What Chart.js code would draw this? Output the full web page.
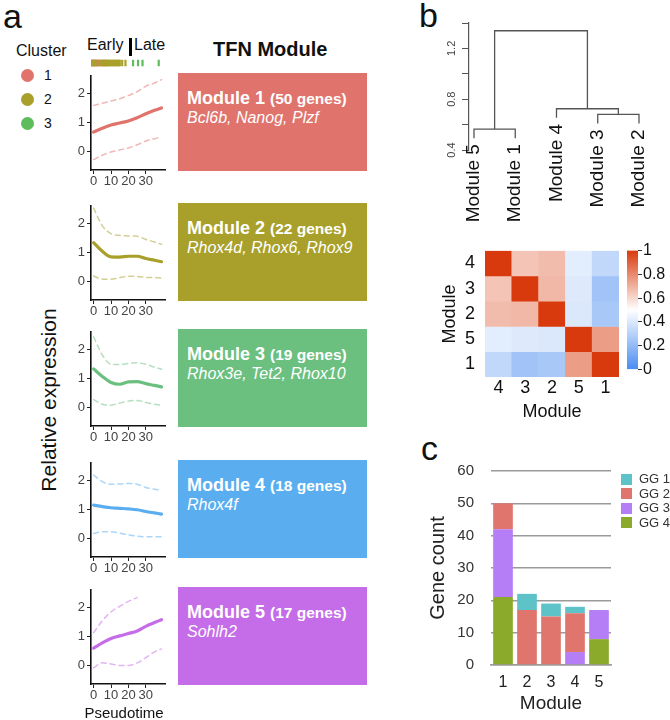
<!DOCTYPE html>
<html>
<head>
<meta charset="utf-8">
<title>TFN modules</title>
<script src="https://cdn.jsdelivr.net/npm/chart.js@4.4.1/dist/chart.umd.min.js"></script>
<style>
  html, body { margin: 0; padding: 0; background: #fff; }
  body { position: relative; width: 670px; height: 720px; overflow: hidden;
         font-family: "Liberation Sans", Arial, sans-serif; color: #111; }
  canvas, .t, .box, .dot, .sq { position: absolute; }
  .t { line-height: 1; white-space: nowrap; }
  .panel { font-size: 34px; }
  .box { left: 178px; width: 189px; height: 98px; color: #fff; }
  .box .l1 { position: absolute; left: 9px; top: 16px; font-weight: bold; font-size: 18px; line-height: 1; white-space: nowrap; }
  .box .l1 small { font-size: 15.5px; }
  .box .l2 { position: absolute; left: 9px; top: 37px; font-style: italic; font-size: 16px; line-height: 1; white-space: nowrap; }
  .dot { width: 13px; height: 13px; border-radius: 50%; }
  .sq { width: 11px; height: 11px; }
</style>
</head>
<body>
<div class="t panel" style="left:3px;top:-1px">a</div>
<div class="t panel" style="left:419px;top:-2px">b</div>
<div class="t panel" style="left:421px;top:431px">c</div>

<div class="t" style="left:16px;top:43px;font-size:16px">Cluster</div>
<div id="clusterLegend"></div>
<div class="t" style="left:87px;top:36.5px;font-size:16px">Early</div>
<div style="position:absolute;left:128.5px;top:38px;width:3px;height:18px;background:#000"></div>
<div class="t" style="left:134px;top:36.5px;font-size:16px">Late</div>
<div class="t" style="left:213px;top:39px;font-size:20px;font-weight:bold">TFN Module</div>
<div id="boxes"></div>

<canvas id="rug" width="109" height="22" style="left:60px;top:52px"></canvas>
<div id="panels"></div>
<div class="t" style="left:48px;top:400px;font-size:21px;transform:translate(-50%,-50%) rotate(-90deg)">Relative expression</div>
<div class="t" style="left:124px;top:705px;font-size:15px;transform:translateX(-50%)">Pseudotime</div>

<canvas id="dendro" width="245" height="215" style="left:425px;top:15px"></canvas>
<canvas id="heat" width="200" height="195" style="left:425px;top:230px"></canvas>
<canvas id="cbar" width="58" height="140" style="left:612px;top:240px"></canvas>
<canvas id="genes" width="190" height="275" style="left:425px;top:445px"></canvas>
<div id="ggLegend"></div>

<script>
// ---- panel a: expression along pseudotime ----
const pseudotime = [0, 5, 10, 15, 20, 25, 30, 35, 39];
const xTicks = [0, 10, 20, 30];
const yTicks = [0, 1, 2];
const fitMean = [
  [0.66, 0.79, 0.90, 0.97, 1.04, 1.15, 1.29, 1.41, 1.49],
  [1.33, 1.03, 0.84, 0.83, 0.86, 0.86, 0.78, 0.72, 0.67],
  [1.32, 1.06, 0.85, 0.79, 0.87, 0.88, 0.81, 0.75, 0.70],
  [1.14, 1.09, 1.05, 1.03, 1.01, 0.98, 0.92, 0.87, 0.83],
  [0.59, 0.77, 0.92, 1.01, 1.09, 1.18, 1.34, 1.47, 1.57]
];
const fitUpper = [
  [1.58, 1.65, 1.73, 1.81, 1.92, 2.05, 2.24, 2.35, 2.47],
  [2.52, 1.91, 1.64, 1.58, 1.56, 1.55, 1.44, 1.35, 1.27],
  [2.43, 1.80, 1.48, 1.47, 1.51, 1.53, 1.48, 1.38, 1.31],
  [2.18, 1.95, 1.86, 1.87, 1.89, 1.86, 1.75, 1.69, 1.65],
  [1.12, 1.53, 1.84, 2.03, 2.20, 2.33, null, null, null]
];
const fitLower = [
  [-0.29, -0.14, -0.03, 0.04, 0.11, 0.22, 0.35, 0.43, 0.49],
  [0.18, 0.07, 0.07, 0.12, 0.17, 0.16, 0.13, 0.12, 0.11],
  [0.26, 0.10, 0.07, 0.14, 0.21, 0.23, 0.16, 0.10, 0.06],
  [0.16, 0.22, 0.22, 0.17, 0.11, 0.07, 0.05, 0.05, 0.05],
  [-0.09, 0.08, 0.04, -0.01, -0.01, 0.08, 0.26, 0.46, 0.56]
];
const moduleNames = ['Module 1', 'Module 2', 'Module 3', 'Module 4', 'Module 5'];
const moduleGenes = [50, 22, 19, 18, 17];
const moduleMarkers = ['Bcl6b, Nanog, Plzf', 'Rhox4d, Rhox6, Rhox9', 'Rhox3e, Tet2, Rhox10', 'Rhox4f', 'Sohlh2'];
const moduleColors = ['#E0736C', '#A8A02A', '#6BBF7F', '#5AAEF0', '#C56CE8'];

// cells on the early/late strip, by cluster
const clusterNames = ['1', '2', '3'];
const clusterColors = ['#E0736C', '#A8A02A', '#5CBD5A'];
const rugCluster1 = [0, 0.6, 1.2, 1.8, 2.4, 3.0, 3.6, 4.2, 6.0, 7.4, 8.8];
const rugCluster2 = [0.3, 1.5, 2.7, 4.8, 5.4, 6.6, 7.0, 7.8, 8.2, 9.2, 9.8, 10.4, 11.0, 11.6, 12.2, 12.8,
                     13.4, 14.0, 14.6, 15.2, 15.8, 16.4, 17.8, 19.7];
const rugCluster3 = [24.1, 27.0, 29.6, 39.0];

// ---- panel b ----
const leafOrder = ['Module 5', 'Module 1', 'Module 4', 'Module 3', 'Module 2'];
const mergePairs = [[-1, -2], [-4, -5], [-3, 2], [1, 3]];   // negative = leaf position, positive = earlier merge
const mergeHeights = [0.565, 0.681, 0.725, 1.339];
const leafHang = 0.072;
const dendroTicks = [0.4, 0.6, 0.8, 1.0, 1.2, 1.4];
const dendroTickLabels = [0.4, 0.8, 1.2];

const heatLabels = ['4', '3', '2', '5', '1'];
const corrRows = [
  [1.00, 0.65, 0.67, 0.42, 0.33],
  [0.65, 1.00, 0.68, 0.41, 0.24],
  [0.67, 0.68, 1.00, 0.40, 0.26],
  [0.42, 0.41, 0.40, 1.00, 0.75],
  [0.33, 0.24, 0.26, 0.75, 1.00]
];
const keyTicks = [0, 0.2, 0.4, 0.6, 0.8, 1];

// ---- panel c ----
const geneModules = ['1', '2', '3', '4', '5'];
const gg1 = [0, 5, 4, 2, 0];
const gg2 = [8, 17, 15, 12, 0];
const gg3 = [21, 0, 0, 4, 9];
const gg4 = [21, 0, 0, 0, 8];
const ggNames = ['GG 1', 'GG 2', 'GG 3', 'GG 4'];
const ggColors = ['#5EC2C9', '#E0756D', '#B57DF6', '#8BAA2B'];

Chart.defaults.font.family = '"Liberation Sans", Arial, sans-serif';
Chart.defaults.color = '#333';
Chart.defaults.animation = false;
Chart.defaults.plugins.legend.display = false;
Chart.defaults.plugins.tooltip.enabled = false;

function fade(hex, a) {
  const n = parseInt(hex.slice(1), 16);
  return `rgba(${n >> 16},${(n >> 8) & 255},${n & 255},${a})`;
}

// html bits: cluster legend and module boxes
const legendEl = document.getElementById('clusterLegend');
clusterNames.forEach((name, i) => {
  const cy = 75 + i * 24;
  legendEl.insertAdjacentHTML('beforeend',
    `<div class="dot" style="left:21px;top:${cy - 6.5}px;background:${clusterColors[i]}"></div>` +
    `<div class="t" style="left:44px;top:${cy - 7}px;font-size:14px">${name}</div>`);
});

const areaTops = [70.7, 200.7, 326.7, 457.7, 584.7];
const boxesEl = document.getElementById('boxes');
moduleNames.forEach((name, i) => {
  boxesEl.insertAdjacentHTML('beforeend',
    `<div class="box" style="top:${Math.round(areaTops[i]) + 2}px;background:${moduleColors[i]}">` +
    `<div class="l1">${name} <small>(${moduleGenes[i]} genes)</small></div>` +
    `<div class="l2">${moduleMarkers[i]}</div></div>`);
});

// expression panels
const panelsEl = document.getElementById('panels');
function expressionPanel(m) {
  const cv = document.createElement('canvas');
  cv.width = 109; cv.height = 126;
  cv.style.left = '60px';
  cv.style.top = (areaTops[m] - 5) + 'px';
  panelsEl.appendChild(cv);
  const pts = arr => pseudotime.map((x, k) => ({ x: x, y: arr[k] }));
  const band = arr => ({ data: pts(arr), borderColor: fade(moduleColors[m], 0.5), borderWidth: 1.5, borderDash: [5, 4] });
  new Chart(cv, {
    type: 'line',
    data: {
      datasets: [
        band(fitUpper[m]),
        band(fitLower[m]),
        { data: pts(fitMean[m]), borderColor: moduleColors[m], borderWidth: 3.2 }
      ]
    },
    options: {
      responsive: false,
      layout: { padding: { top: 5, right: 4, left: 0, bottom: 0 } },
      elements: { point: { radius: 0 }, line: { cubicInterpolationMode: 'monotone', borderCapStyle: 'round' } },
      scales: {
        x: {
          type: 'linear', min: -1.5, max: 41,
          afterBuildTicks: s => { s.ticks = xTicks.map(v => ({ value: v })); },
          afterFit: s => { s.height = 22; },
          grid: { drawOnChartArea: false, tickLength: 4, tickColor: '#222' },
          border: { color: '#111', width: 1.6 },
          ticks: { padding: 0, autoSkip: false, color: '#444', font: { size: 13 } }
        },
        y: {
          min: -0.65, max: 2.6,
          afterBuildTicks: s => { s.ticks = yTicks.map(v => ({ value: v })); },
          afterFit: s => { s.width = 31; },
          grid: { drawOnChartArea: false, tickLength: 4, tickColor: '#222' },
          border: { color: '#111', width: 1.6 },
          ticks: { padding: 2, color: '#444', font: { size: 13 } }
        }
      }
    }
  });
}
moduleNames.forEach((_, m) => expressionPanel(m));

// early / late strip
const rugSet = (arr, i) => ({
  data: arr.map(x => ({ x: x, y: 0.5 })),
  pointStyle: 'line', rotation: 90, pointRadius: 5.5,
  pointBorderWidth: 2.2, pointBorderColor: clusterColors[i]
});
new Chart(document.getElementById('rug'), {
  type: 'scatter',
  data: { datasets: [rugSet(rugCluster2, 1), rugSet(rugCluster1, 0), rugSet(rugCluster3, 2)] },
  options: {
    responsive: false,
    layout: { padding: { left: 31, right: 4, top: 0, bottom: 0 } },
    scales: {
      x: { type: 'linear', min: -0.3, max: 40.5, display: false },
      y: { min: 0, max: 1, display: false }
    }
  }
});

// dendrogram
const nodeX = [];
const childX = c => c < 0 ? -c : nodeX[c - 1];
mergePairs.forEach(([a, b], k) => { nodeX[k] = (childX(a) + childX(b)) / 2; });
const childBottom = (c, h) => c < 0 ? h - leafHang : mergeHeights[c - 1];
const leafEnd = [];
const links = mergePairs.map(([a, b], k) => {
  const h = mergeHeights[k];
  [a, b].forEach(c => { if (c < 0) leafEnd[-c - 1] = h - leafHang; });
  return {
    data: [
      { x: childX(a), y: childBottom(a, h) }, { x: childX(a), y: h },
      { x: childX(b), y: h }, { x: childX(b), y: childBottom(b, h) }
    ],
    showLine: true, borderColor: '#555', borderWidth: 1.3, pointRadius: 0, tension: 0
  };
});
const dendroText = {
  id: 'dendroText',
  afterDatasetsDraw(chart) {
    const { ctx, scales: { x, y } } = chart;
    ctx.save();
    ctx.fillStyle = '#111';
    ctx.font = '19px "Liberation Sans", Arial, sans-serif';
    ctx.textAlign = 'right';
    ctx.textBaseline = 'middle';
    leafOrder.forEach((name, i) => {
      ctx.save();
      ctx.translate(x.getPixelForValue(i + 1), y.getPixelForValue(leafEnd[i]) + 6);
      ctx.rotate(-Math.PI / 2);
      ctx.fillText(name, 0, 0);
      ctx.restore();
    });
    ctx.fillStyle = '#444';
    ctx.font = '11px "Liberation Sans", Arial, sans-serif';
    ctx.textAlign = 'center';
    ctx.textBaseline = 'bottom';
    dendroTickLabels.forEach(v => {
      ctx.save();
      ctx.translate(x.left - 12, y.getPixelForValue(v));
      ctx.rotate(-Math.PI / 2);
      ctx.fillText(v.toFixed(1), 0, 0);
      ctx.restore();
    });
    ctx.restore();
  }
};
new Chart(document.getElementById('dendro'), {
  type: 'scatter',
  data: { datasets: links },
  plugins: [dendroText],
  options: {
    responsive: false,
    layout: { padding: { top: 8, bottom: 80, left: 0, right: 20 } },
    scales: {
      x: { type: 'linear', min: 0.879, max: 5.267, display: false },
      y: {
        min: 0.4, max: 1.4,
        afterBuildTicks: s => { s.ticks = dendroTicks.map(v => ({ value: v })); },
        afterFit: s => { s.width = 44; },
        grid: { drawOnChartArea: false, tickLength: 7, tickColor: '#555' },
        border: { color: '#555', width: 1.2 },
        ticks: { display: false }
      }
    }
  }
});

// correlation heatmap
const lowC = [74, 140, 240], midC = [255, 255, 255], highC = [217, 58, 13];
function corrColor(v) {
  const [a, b, t] = v < 0.5 ? [lowC, midC, v / 0.5] : [midC, highC, (v - 0.5) / 0.5];
  return `rgb(${a.map((c, i) => Math.round(c + (b[i] - c) * t)).join(',')})`;
}
new Chart(document.getElementById('heat'), {
  type: 'bar',
  data: {
    labels: heatLabels,
    datasets: corrRows.map((row, r) => ({
      data: row.map(() => [r - 0.5, r + 0.5]),
      backgroundColor: row.map(corrColor),
      borderWidth: 0, grouped: false, barPercentage: 1, categoryPercentage: 1
    }))
  },
  options: {
    responsive: false,
    layout: { padding: { top: 9, right: 6, left: 8, bottom: 0 } },
    scales: {
      x: {
        grid: { display: false, drawTicks: false }, border: { display: false },
        afterFit: s => { s.height = 48; },
        ticks: { padding: 0, color: '#111', font: { size: 18 } },
        title: { display: true, text: 'Module', color: '#111', font: { size: 18 }, padding: { top: 0, bottom: 2 } }
      },
      y: {
        type: 'linear', min: -0.5, max: 4.5, reverse: true,
        afterBuildTicks: s => { s.ticks = heatLabels.map((_, i) => ({ value: i })); },
        afterFit: s => { s.width = 52; },
        grid: { display: false, drawTicks: false }, border: { display: false },
        ticks: { padding: 10, autoSkip: false, color: '#111', font: { size: 18 }, callback: v => heatLabels[v] },
        title: { display: true, text: 'Module', color: '#111', font: { size: 18 }, padding: { top: 6, bottom: 0 } }
      }
    }
  }
});

// colour key
new Chart(document.getElementById('cbar'), {
  type: 'bar',
  data: {
    labels: [''],
    datasets: [{
      data: [[0, 1]], barPercentage: 1, categoryPercentage: 1, borderWidth: 0,
      backgroundColor: c => {
        const a = c.chart.chartArea;
        if (!a) return '#fff';
        const g = c.chart.ctx.createLinearGradient(0, a.bottom, 0, a.top);
        [0, 0.25, 0.5, 0.75, 1].forEach(v => g.addColorStop(v, corrColor(v)));
        return g;
      }
    }]
  },
  options: {
    responsive: false,
    layout: { padding: { top: 8, bottom: 8, left: 15, right: 0 } },
    scales: {
      x: { display: false },
      y: {
        position: 'right', min: 0, max: 1,
        afterBuildTicks: s => { s.ticks = keyTicks.map(v => ({ value: v })); },
        ticks: { autoSkip: false, padding: 1, color: '#111', font: { size: 16 },
                 callback: v => (v === 0 || v === 1) ? String(v) : v.toFixed(1) },
        afterFit: s => { s.width = 32; },
        grid: { drawOnChartArea: false, tickLength: 4, tickColor: '#333' },
        border: { display: false }
      }
    }
  }
});

// gene groups per module
const ggSeries = [gg1, gg2, gg3, gg4];
new Chart(document.getElementById('genes'), {
  type: 'bar',
  data: {
    labels: geneModules,
    datasets: [3, 2, 1, 0].map(i => ({
      label: ggNames[i], data: ggSeries[i], backgroundColor: ggColors[i],
      borderWidth: 0, barPercentage: 0.82, categoryPercentage: 1
    }))
  },
  options: {
    responsive: false,
    layout: { padding: { top: 11, right: 4, left: 0, bottom: 0 } },
    scales: {
      x: {
        stacked: true,
        grid: { display: false, drawTicks: false },
        border: { color: '#9a9a9a', width: 1.5 },
        afterFit: s => { s.height = 55; },
        ticks: { padding: 8, color: '#222', font: { size: 16 } },
        title: { display: true, text: 'Module', color: '#222', font: { size: 19 }, padding: { top: 0, bottom: 5 } }
      },
      y: {
        stacked: true, min: 0, max: 60,
        ticks: { stepSize: 10, padding: 17, color: '#333', font: { size: 15 } },
        afterFit: s => { s.width = 66; },
        grid: { color: '#9a9a9a', lineWidth: 1.5, drawTicks: false },
        border: { display: false },
        title: { display: true, text: 'Gene count', color: '#222', font: { size: 20 }, padding: { top: 1, bottom: 0 } }
      }
    }
  }
});

const ggLegendEl = document.getElementById('ggLegend');
ggNames.forEach((name, i) => {
  const cy = 479 + i * 14.5;
  ggLegendEl.insertAdjacentHTML('beforeend',
    `<div class="sq" style="left:621px;top:${cy - 5.5}px;background:${ggColors[i]}"></div>` +
    `<div class="t" style="left:639px;top:${cy - 7}px;font-size:13px;color:#333">${name}</div>`);
});
</script>
</body>
</html>
